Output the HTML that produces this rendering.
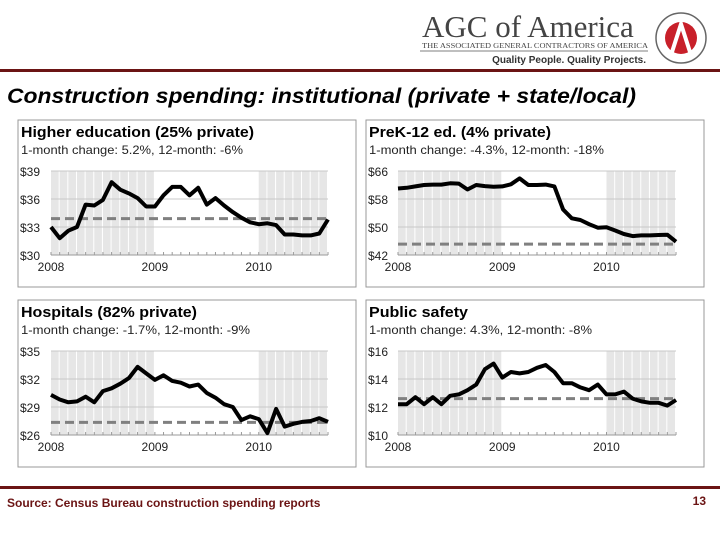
<!DOCTYPE html>
<html><head><meta charset="utf-8"><style>
body{margin:0;width:720px;height:540px;background:#fff;overflow:hidden;font-family:"Liberation Sans",sans-serif;}
</style></head><body>
<svg id="root" width="720" height="540" viewBox="0 0 720 540" font-family="Liberation Sans, sans-serif">
 <g>
  <text x="422" y="37" font-family="Liberation Serif, serif" font-size="31" fill="#444">AGC of America</text>
  <text x="422" y="48" font-family="Liberation Serif, serif" font-size="7.6" fill="#444" textLength="226" lengthAdjust="spacingAndGlyphs">THE ASSOCIATED GENERAL CONTRACTORS OF AMERICA</text>
  <line x1="420" y1="51" x2="648" y2="51" stroke="#555" stroke-width="0.8"/>
  <text x="646" y="63" text-anchor="end" font-size="10" font-weight="bold" fill="#333">Quality People. Quality Projects.</text>
  <circle cx="681" cy="38" r="25" fill="#fff" stroke="#666" stroke-width="1.5"/>
  <circle cx="681" cy="38" r="16" fill="#c8202a"/>
  <path d="M672 52 L681 24 L690 52" fill="none" stroke="#fff" stroke-width="4"/>
 </g>
 <rect x="0" y="69" width="720" height="3" fill="#6b1414"/>
 <text x="7" y="103" font-size="21" font-weight="bold" font-style="italic" fill="#000" textLength="629" lengthAdjust="spacingAndGlyphs">Construction spending: institutional (private + state/local)</text>
 <g id="charts"></g>
 <rect x="0" y="486" width="720" height="3" fill="#6b1414"/>
 <text x="7" y="507" font-size="12" font-weight="bold" fill="#6b1414">Source: Census Bureau construction spending reports</text>
 <text x="706" y="505" text-anchor="end" font-size="12" font-weight="bold" fill="#6b1414">13</text>
</svg>
<script>
const yearLabels = ["2008","2009","2010"];
const higherEd = [33.0,31.8,32.6,33.0,35.4,35.3,35.9,37.8,37.0,36.6,36.1,35.2,35.2,36.4,37.3,37.3,36.4,37.2,35.4,36.1,35.3,34.6,34.0,33.5,33.3,33.4,33.2,32.2,32.2,32.1,32.1,32.3,33.8];
const preK12 = [61.0,61.2,61.6,62.0,62.1,62.1,62.5,62.4,60.7,62.0,61.7,61.5,61.6,62.2,63.9,62.0,62.0,62.1,61.6,55.0,52.5,52.0,50.8,49.8,49.9,49.0,48.0,47.4,47.6,47.6,47.7,47.8,45.8];
const hospitals = [30.3,29.8,29.5,29.6,30.1,29.5,30.7,31.0,31.5,32.1,33.3,32.6,31.9,32.4,31.8,31.6,31.2,31.4,30.5,30.0,29.3,29.0,27.6,28.0,27.7,26.2,28.8,26.9,27.2,27.4,27.5,27.8,27.4];
const publicSafety = [12.2,12.2,12.7,12.2,12.7,12.2,12.8,12.9,13.2,13.6,14.7,15.1,14.1,14.5,14.4,14.5,14.8,15.0,14.5,13.7,13.7,13.4,13.2,13.6,12.9,12.9,13.1,12.6,12.4,12.3,12.3,12.1,12.5];
const refLines = [33.9,45.1,27.35,12.6];
const yTicks1 = [30,33,36,39], yTicks2 = [42,50,58,66], yTicks3 = [26,29,32,35], yTicks4 = [10,12,14,16];
const titles = ["Higher education (25% private)","PreK-12 ed. (4% private)","Hospitals (82% private)","Public safety"];
const subtitles = ["1-month change: 5.2%, 12-month: -6%","1-month change: -4.3%, 12-month: -18%","1-month change: -1.7%, 12-month: -9%","1-month change: 4.3%, 12-month: -8%"];

const NS="http://www.w3.org/2000/svg";
const root=document.getElementById('charts');
function mk(tag,attrs,parent){const e=document.createElementNS(NS,tag);for(const k in attrs)e.setAttribute(k,attrs[k]);(parent||root).appendChild(e);return e;}
const panels=[
 {bx:18,by:120,px0:51,px1:328,py0:171,py1:255,data:higherEd,ticks:yTicks1,name:'higher-education',tw:233,sw:222},
 {bx:366,by:120,px0:398,px1:676,py0:171,py1:255,data:preK12,ticks:yTicks2,name:'prek12',tw:182,sw:235},
 {bx:18,by:300,px0:51,px1:328,py0:351,py1:435,data:hospitals,ticks:yTicks3,name:'hospitals',tw:176,sw:229},
 {bx:366,by:300,px0:398,px1:676,py0:351,py1:435,data:publicSafety,ticks:yTicks4,name:'public-safety',tw:99,sw:223}
];
panels.forEach((p,i)=>{
 const g=mk('g',{});
 
 
 const box=mk('rect',{x:p.bx,y:p.by,width:338,height:167,fill:'#fff',stroke:'#999','stroke-width':1},g);
 
 
 const t=mk('text',{x:p.bx+3,y:p.by+17,'font-size':15,'font-weight':'bold',fill:'#000',textLength:p.tw,lengthAdjust:'spacingAndGlyphs'},g);t.textContent=titles[i];
 
 
 const s=mk('text',{x:p.bx+3,y:p.by+34,'font-size':12,fill:'#222',textLength:p.sw,lengthAdjust:'spacingAndGlyphs'},g);s.textContent=subtitles[i];
 
 
 const n=p.data.length;
 const xs=k=>p.px0+(p.px1-p.px0)*k/(n-1);
 const lo=p.ticks[0],hi=p.ticks[p.ticks.length-1];
 const ys=v=>p.py1-(v-lo)/(hi-lo)*(p.py1-p.py0);
 const dx=(p.px1-p.px0)/(n-1);
 for(let k=0;k<n-1;k++){
  if(k<12||k>=24){const r=mk('rect',{x:p.px0+k*dx,y:p.py0,width:Math.max(dx-1,1),height:p.py1-p.py0,fill:'#e6e6e6'},g);
   
   }
 }
 p.ticks.forEach((v,j)=>{
  if(j>0){const l=mk('line',{x1:p.px0,x2:p.px1,y1:ys(v),y2:ys(v),stroke:'#c8c8c8','stroke-width':1},g);
   
   }
  const tl=mk('text',{x:p.bx+2,y:ys(v)+5,'font-size':12,fill:'#222'},g);tl.textContent='$'+v;
  
  
 });
 mk('line',{x1:p.px0,x2:p.px1,y1:p.py1,y2:p.py1,stroke:'#999'},g);
 for(let k=0;k<n;k++){const tk=mk('line',{x1:xs(k),x2:xs(k),y1:p.py1-3,y2:p.py1,stroke:'#999'},g);
  
  }
 yearLabels.forEach((y,j)=>{const xl=mk('text',{x:xs(j*12),y:p.py1+16,'font-size':12,'text-anchor':'middle',fill:'#222'},g);xl.textContent=y;
  
  });
 const rl=mk('line',{x1:p.px0,x2:p.px1,y1:ys(refLines[i]),y2:ys(refLines[i]),stroke:'#808080','stroke-width':3,'stroke-dasharray':'9,5'},g);
 
 
 const pts=p.data.map((v,k)=>xs(k).toFixed(1)+','+ys(v).toFixed(1)).join(' ');
 const pl=mk('polyline',{points:pts,fill:'none',stroke:'#000','stroke-width':4,'stroke-linejoin':'round'},g);
 
 
});
</script>
</body></html>
